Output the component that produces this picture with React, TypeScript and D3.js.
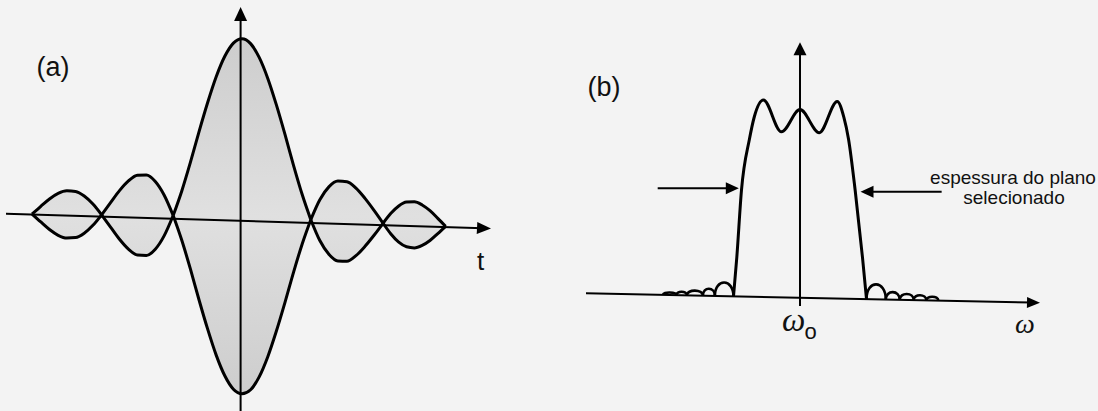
import React from "react";
import * as d3 from "d3";

// ---------- Panel (a): modulated wave packet ----------
// Envelope zero crossings along t
const NODES_T = [-3.0, -2.0, -0.97, 1.01, 2.05, 2.95];
// Envelope magnitude, sampled evenly across each lobe (node to node)
const LOBE_1 = [0, 0.044, 0.086, 0.118, 0.133, 0.13, 0.105, 0.06, 0];
const LOBE_2 = [0, 0.069, 0.137, 0.192, 0.225, 0.227, 0.191, 0.114, 0];
const LOBE_MAIN = [0, 0.139, 0.3, 0.473, 0.637, 0.784, 0.9, 0.975, 1.0, 0.975, 0.9, 0.784, 0.637, 0.473, 0.3, 0.139, 0];
const LOBE_4 = [0, 0.115, 0.19, 0.225, 0.224, 0.19, 0.135, 0.07, 0];
const LOBE_5 = [0, 0.058, 0.102, 0.126, 0.13, 0.114, 0.084, 0.043, 0];
const LOBES = [LOBE_1, LOBE_2, LOBE_MAIN, LOBE_4, LOBE_5];

// ---------- Panel (b): slice profile in frequency ----------
const PASSBAND_W = [-1.0, -0.95, -0.88, -0.76, -0.69, -0.55, -0.28, 0, 0.29, 0.56, 0.66, 0.73, 0.83, 0.94, 1.0];
const PASSBAND_MAG = [0, 0.2, 0.54, 0.8, 0.91, 1.0, 0.84, 0.955, 0.84, 1.0, 0.92, 0.81, 0.55, 0.21, 0];
const SIDELOBE_START = [-2.06, -1.86, -1.7, -1.46, -1.28, 1.0, 1.29, 1.5, 1.71, 1.9];
const SIDELOBE_END = [-1.86, -1.7, -1.46, -1.28, -1.0, 1.29, 1.5, 1.71, 1.9, 2.08];
const SIDELOBE_PEAK = [0.013, 0.018, 0.025, 0.036, 0.069, 0.076, 0.038, 0.03, 0.025, 0.019];

const SANS = "'Liberation Sans', Arial, Helvetica, sans-serif";
const SERIF = "'Liberation Serif', 'Times New Roman', serif";

function arrowHead(tipX: number, tipY: number, angle: number, len: number, halfW: number) {
  const bx = tipX - len * Math.cos(angle);
  const by = tipY - len * Math.sin(angle);
  const nx = -Math.sin(angle) * halfW;
  const ny = Math.cos(angle) * halfW;
  return `${tipX},${tipY} ${bx + nx},${by + ny} ${bx - nx},${by - ny}`;
}

function PanelA() {
  const x = d3.scaleLinear().domain([0, 1]).range([240.6, 310.1]);
  const amp = d3.scaleLinear().domain([0, 1]).range([0, 177.5]);
  // the t axis runs slightly downhill to the right
  const base = d3.scaleLinear().domain([6, 240.6, 491]).range([213.8, 216.2, 228.6]);

  const lobePts = LOBES.map((vals, i) => {
    const t0 = NODES_T[i];
    const t1 = NODES_T[i + 1];
    return vals.map((v, j) => {
      const px = x(t0 + ((t1 - t0) * j) / (vals.length - 1));
      return { px, up: base(px) - amp(v), dn: base(px) + amp(v) };
    });
  });

  type P = { px: number; up: number; dn: number };
  const area = d3
    .area<P>()
    .x((d) => d.px)
    .y0((d) => d.dn)
    .y1((d) => d.up)
    .curve(d3.curveMonotoneX);
  const upper = d3.line<P>().x((d) => d.px).y((d) => d.up).curve(d3.curveMonotoneX);
  const lower = d3.line<P>().x((d) => d.px).y((d) => d.dn).curve(d3.curveMonotoneX);

  const axX0 = 6;
  const axX1 = 491;
  const axAngle = Math.atan2(base(axX1) - base(450), axX1 - 450);
  const vx = x(0);

  return (
    <g>
      <defs>
        <linearGradient id="lobeFill" gradientUnits="userSpaceOnUse" x1="0" y1="38" x2="0" y2="394">
          <stop offset="0" stopColor="#cdcdcd" />
          <stop offset="0.5" stopColor="#e0e0e0" />
          <stop offset="1" stopColor="#cdcdcd" />
        </linearGradient>
      </defs>
      {lobePts.map((pts, i) => (
        <path key={`f${i}`} d={area(pts) ?? ""} fill="url(#lobeFill)" stroke="none" />
      ))}
      {/* t axis */}
      <line x1={axX0} y1={base(axX0)} x2={axX1 - 8} y2={base(axX1 - 8)} stroke="#000" strokeWidth={2} />
      <polygon points={arrowHead(axX1, base(axX1), axAngle, 14, 6)} fill="#000" />
      {/* amplitude axis */}
      <line x1={vx} y1={18} x2={vx} y2={411} stroke="#000" strokeWidth={2} />
      <polygon points={arrowHead(vx, 7, -Math.PI / 2, 14, 6.5)} fill="#000" />
      {lobePts.map((pts, i) => (
        <g key={`s${i}`}>
          <path d={upper(pts) ?? ""} fill="none" stroke="#000" strokeWidth={3} strokeLinejoin="round" />
          <path d={lower(pts) ?? ""} fill="none" stroke="#000" strokeWidth={3} strokeLinejoin="round" />
        </g>
      ))}
      <text x={36.5} y={76} fontFamily={SANS} fontSize={27} fill="#111">(a)</text>
      <text x={477} y={270} fontFamily={SANS} fontSize={26} fill="#111">t</text>
    </g>
  );
}

function PanelB() {
  const x = d3.scaleLinear().domain([-1, 1]).range([733.5, 866.5]);
  const h = d3.scaleLinear().domain([0, 1]).range([0, 197]);
  const base = d3.scaleLinear().domain([586, 1040]).range([293.3, 302.7]);

  const band = PASSBAND_W.map((w, i) => {
    const px = x(w);
    return [px, base(px) - h(PASSBAND_MAG[i])] as [number, number];
  });
  const bandLine = d3.line().curve(d3.curveMonotoneX)(band) ?? "";

  const humps = SIDELOBE_START.map((s, i) => {
    const x0 = x(s);
    const x1 = x(SIDELOBE_END[i]);
    const y0 = base(x0);
    const y1 = base(x1);
    const c = (4 / 3) * h(SIDELOBE_PEAK[i]);
    const p = d3.path();
    p.moveTo(x0, y0);
    p.bezierCurveTo(x0, y0 - c, x1, y1 - c, x1, y1);
    return p.toString();
  });

  const axX0 = 586;
  const axX1 = 1040;
  const axAngle = Math.atan2(base(axX1) - base(axX0), axX1 - axX0);
  const vx = x(0);

  const leftTip = x(-0.92);
  const rightTip = x(0.91);

  return (
    <g>
      {/* frequency axis */}
      <line x1={axX0} y1={base(axX0)} x2={axX1 - 8} y2={base(axX1 - 8)} stroke="#000" strokeWidth={2} />
      <polygon points={arrowHead(axX1, base(axX1), axAngle, 13, 5.5)} fill="#000" />
      {/* magnitude axis */}
      <line x1={vx} y1={52} x2={vx} y2={306} stroke="#000" strokeWidth={2} />
      <polygon points={arrowHead(vx, 42.3, -Math.PI / 2, 13, 6.5)} fill="#000" />

      <path d={bandLine} fill="none" stroke="#000" strokeWidth={3} strokeLinejoin="round" />
      {humps.map((d, i) => (
        <path key={i} d={d} fill="none" stroke="#000" strokeWidth={2.6} />
      ))}

      {/* slice thickness markers */}
      <line x1={x(-2.14)} y1={188.3} x2={leftTip - 8} y2={188.3} stroke="#000" strokeWidth={2} />
      <polygon points={arrowHead(leftTip, 188.3, 0, 13, 6)} fill="#000" />
      <line x1={x(2.13)} y1={191.7} x2={rightTip + 8} y2={191.7} stroke="#000" strokeWidth={2} />
      <polygon points={arrowHead(rightTip, 191.7, Math.PI, 13, 6)} fill="#000" />

      <text x={1013} y={183.5} textAnchor="middle" fontFamily={SANS} fontSize={19} fill="#111">
        espessura do plano
      </text>
      <text x={1014} y={204} textAnchor="middle" fontFamily={SANS} fontSize={19} fill="#111">
        selecionado
      </text>

      <text x={587.5} y={96} fontFamily={SANS} fontSize={27} fill="#111">(b)</text>

      <text x={782} y={331} fontFamily={SERIF} fontStyle="italic" fontSize={33} fill="#111">ω</text>
      <text x={804.5} y={339.3} fontFamily={SANS} fontSize={22} fill="#111">o</text>
      <text x={1015} y={333} fontFamily={SERIF} fontStyle="italic" fontSize={28} fill="#111">ω</text>
    </g>
  );
}

export default function App() {
  return (
    <div style={{ position: "absolute", left: 0, top: 0 }}>
      <svg width={1098} height={411} viewBox="0 0 1098 411" style={{ display: "block" }}>
        <rect x={0} y={0} width={1098} height={411} fill="#f3f3f3" />
        <PanelA />
        <PanelB />
      </svg>
    </div>
  );
}
